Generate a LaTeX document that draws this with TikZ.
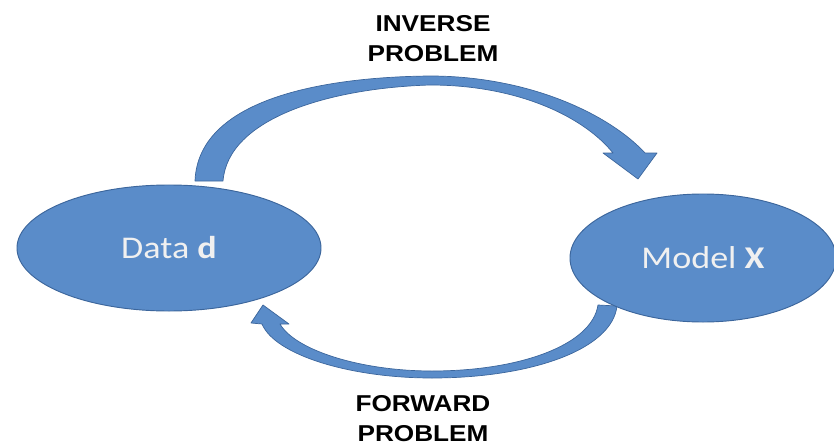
\documentclass[tikz,border=0pt]{standalone}
\usepackage{fontspec}
\setmainfont{Liberation Sans}
\newfontfamily\calibri{Carlito}
\usepackage{tikz}
\usetikzlibrary{shapes.geometric}
\definecolor{BoxBlue}{RGB}{90,140,201}
\definecolor{EdgeBlue}{RGB}{60,102,156}
\tikzset{
	blob/.style={ellipse, draw=EdgeBlue, line width=0.8pt, fill=BoxBlue,
		text=white!94!black, inner sep=0pt,
		font=\calibri\fontsize{27}{30}\selectfont},
	band/.style={fill=BoxBlue, draw=EdgeBlue, line width=0.6pt, line join=round},
	caption/.style={align=center, font=\bfseries\fontsize{19.6}{25.6}\selectfont},
}
\newcommand{\widen}[1]{\scalebox{1.14}[1]{#1}}

\begin{document}
\begin{tikzpicture}[x=0.03cm, y=-0.03cm]
		\useasboundingbox (0,0) rectangle (834,447);
		
		% Inverse problem arrow (data -> model)
		\draw[band] (195,181) .. controls (198,100) and (320,77) .. (430,76)
			.. controls (530,76) and (610,115) .. (645,153)
			-- (657,153) -- (638,179) -- (603,153) -- (613,153)
			.. controls (585,118) and (520,85) .. (430,85)
			.. controls (330,88) and (228,118) .. (223,181) -- cycle;
		
		% Forward problem arrow (model -> data)
		\draw[band] (617,306) .. controls (612,350) and (530,378) .. (432,378)
			.. controls (350,378) and (275,355) .. (262,324)
			-- (251,323) -- (263,305) -- (289,324) -- (280,324)
			.. controls (295,350) and (360,371) .. (432,371)
			.. controls (520,371) and (592,345) .. (598,305) -- cycle;
		
		% Data and model
		\node[blob, minimum width=9.12cm, minimum height=3.78cm] (data) at (169,248)
			{\widen{Data \textbf{d}}};
		\node[blob, minimum width=7.98cm, minimum height=3.84cm] (model) at (703,258)
			{\widen{Model \textbf{X}}};
		
		% Labels
		\node[caption] (inverse) at (433,39) {\widen{INVERSE}\\\widen{PROBLEM}};
		\node[caption] (forward) at (423,419) {\widen{FORWARD}\\\widen{PROBLEM}};
	\end{tikzpicture}
\end{document}
